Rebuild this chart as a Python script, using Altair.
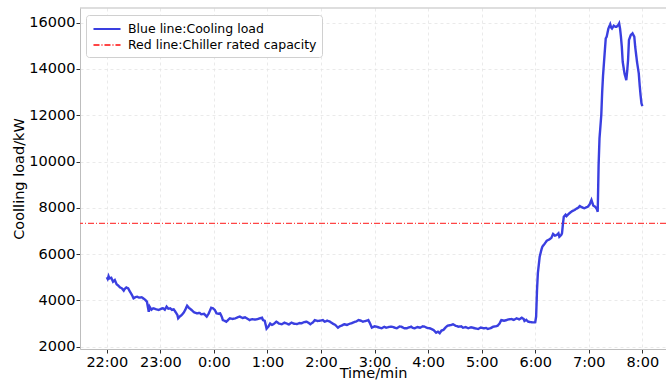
import altair as alt
import pandas as pd

# minutes after 22:00
minutes = [0,1,2,3,5,7,9,11,13,15,17,19,20,22,24,26,28,30,32,34,36,39,42,45,47,48,50,52,55,58,
           61,63,65,67,69,71,73,75,77,79,80,82,84,86,88,90,92,95,98,101,104,106,109,112,114,117,119,121,123,125,
           127,129,130,132,134,136,138,141,144,146,149,152,155,158,160,163,166,168,171,174,175,177,179,181,183,185,187,190,193,196,
           199,201,204,207,210,213,216,218,221,224,226,228,231,233,236,239,242,244,247,250,253,256,259,261,263,266,269,272,274,277,
           280,282,285,287,290,293,295,297,300,302,305,308,311,313,316,319,322,325,328,330,333,336,339,341,343,345,348,351,354,356,
           359,362,364,366,369,371,373,375,377,380,382,385,388,391,394,397,399,402,405,408,410,413,416,419,422,425,427,430,433,436,
           438,440,442,445,448,450,453,456,459,462,465,467,468,470,472,475,478,480,481,482,483,485,487,488,490,493,496,498,500,502,
           504,506,507,509,510,511,512,514,515,517,519,521,524,526,528,530,532,535,537,539,541,543,545,547,549,550,551,552,554,555,
           556,558,559,560,562,564,565,566,568,570,571,573,574,575,576,577,578,580,582,583,584,585,587,589,591,592,594,596,597,598,
           599,600]
load = [5000,4930,5050,4950,4980,4810,4880,4700,4635,4560,4520,4420,4490,4560,4520,4375,4250,4090,4140,4160,4120,4135,4060,3945,3510,3730,3600,3660,3620,3585,
        3640,3660,3600,3730,3640,3660,3590,3615,3500,3380,3225,3310,3370,3460,3600,3770,3680,3585,3480,3440,3460,3400,3420,3300,3420,3685,3660,3585,3440,3420,
        3440,3280,3150,3120,3080,3160,3225,3200,3225,3260,3300,3240,3270,3200,3150,3190,3170,3185,3220,3250,3150,3120,2780,2865,3000,2940,2980,3080,3000,2970,
        3040,3010,2960,3040,2990,2980,3020,3010,3060,3080,3030,2970,3050,3150,3110,3125,3150,3080,3125,3080,3000,2940,2820,2880,2910,2970,2940,2990,3010,3060,
        3100,3150,3120,3080,3110,3150,3000,2820,2880,2865,2830,2795,2860,2820,2850,2865,2830,2795,2870,2865,2800,2795,2840,2865,2810,2795,2850,2820,2880,2865,
        2810,2795,2760,2720,2605,2650,2580,2700,2720,2850,2910,2930,2970,2900,2865,2880,2820,2850,2795,2840,2820,2790,2765,2830,2795,2810,2765,2800,2865,2880,
        2910,3000,3150,3120,3150,3180,3195,3160,3225,3180,3250,3200,3110,3160,3080,3060,3050,3060,3300,4450,5200,5890,6200,6320,6420,6580,6640,6700,6870,6800,
        6825,6900,6750,6820,6900,7300,7615,7700,7645,7720,7790,7850,7905,7960,8000,8080,8030,7980,8020,8050,8150,8340,8100,8050,7950,7830,9850,11000,12010,13000,
        13740,14800,15320,15390,15750,15930,15800,15750,15870,15820,15825,15900,15970,15750,15400,14960,14310,13810,13520,13900,14385,15250,15465,15540,15390,14960,14310,13810,13300,12870,
        12515,12400]

capacity = [7330]
series_names = ["Blue line:Cooling load", "Red line:Chiller rated capacity"]
x_ticks = [0, 60, 120, 180, 240, 300, 360, 420, 480, 540, 600]
y_ticks = [2000, 4000, 6000, 8000, 10000, 12000, 14000, 16000]

df_load = pd.DataFrame({"minute": minutes, "load": load, "series": series_names[0]})
df_cap = pd.DataFrame({"load": capacity, "series": [series_names[1]]})

W, H = 586, 341
FONT = "DejaVu Sans"

legend = alt.Legend(
    title=None, orient="none", legendX=6, legendY=7,
    fillColor="white", strokeColor="#d0d0d0", cornerRadius=3, padding=5,
    labelFont=FONT, labelFontSize=12.5, labelColor="black", labelLimit=400,
    labelOffset=12, symbolOffset=7,
    symbolType="M-1.69,0L1.69,0", symbolSize=256, symbolStrokeWidth=2, rowPadding=0,
)
color = alt.Color("series:N", scale=alt.Scale(domain=series_names, range=["#3a3fe0", "#ff4545"]), legend=legend)
dash = alt.StrokeDash("series:N", scale=alt.Scale(domain=series_names, range=[[1, 0], [6, 2, 1, 2]]), legend=legend)

x_enc = alt.X("minute:Q",
              scale=alt.Scale(domain=[-30, 626.5], nice=False, zero=False),
              axis=alt.Axis(values=x_ticks, title="Time/min",
                            labelExpr="(floor(22 + datum.value/60) % 24) + ':00'"))
y_enc = alt.Y("load:Q",
              scale=alt.Scale(domain=[1900, 16635], nice=False, zero=False),
              axis=alt.Axis(values=y_ticks, title="Coolling load/kW", format="d"))

line = alt.Chart(df_load).mark_line(strokeWidth=2.4, clip=True).encode(
    x=x_enc, y=y_enc, color=color, strokeDash=dash)

rule = alt.Chart(df_cap).mark_rule(strokeWidth=1.2, opacity=1).encode(
    y=alt.Y("load:Q"), color=color, strokeDash=dash)

top_border = alt.Chart(pd.DataFrame({"k": [0]})).mark_rule(color="#bdbdbd", strokeWidth=1).encode(
    x=alt.value(0), x2=alt.value(W), y=alt.value(0))

chart = alt.layer(rule, line, top_border).properties(
    width=W, height=H,
    autosize=alt.AutoSizeParams(type="none"),
    padding={"left": 80, "top": 8, "right": 0, "bottom": 31},
).configure_view(stroke=None).configure_axis(
    labelFont=FONT, titleFont=FONT, labelFontSize=14.5, titleFontSize=14.5,
    titleFontWeight="normal", labelColor="black", titleColor="black",
    domainColor="#bdbdbd", domainWidth=1, tickColor="#333333", tickSize=4,
    gridColor="#e4e4e4", gridDash=[3, 3], gridWidth=0.8, labelPadding=1,
).configure_axisX(labelPadding=2, titleY=28.5, titleBaseline="alphabetic").configure_axisY(titlePadding=2)

chart.save("out.html", embed_options={"renderer": "svg", "actions": False})
